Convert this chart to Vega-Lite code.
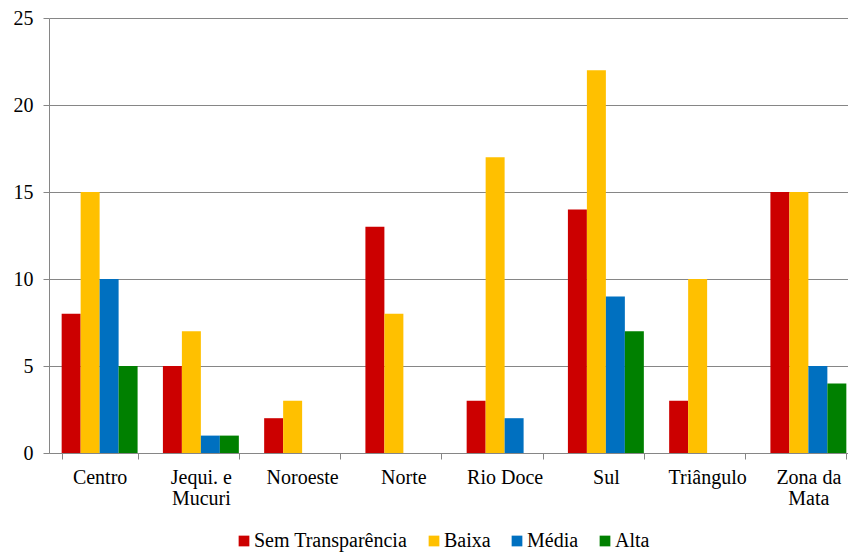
{
  "$schema": "https://vega.github.io/schema/vega-lite/v6.json",
  "autosize": {"type": "none"},
  "width": 810,
  "height": 435,
  "padding": {"left": 49, "top": 18, "right": 0, "bottom": 100},
  "background": "white",
  "config": {
    "font": "Liberation Serif",
    "view": {"stroke": null},
    "legend": {"labelFont": "Liberation Serif", "labelFontSize": 20, "labelColor": "black"}
  },
  "data": {
    "values": [
      {"regiao": "Centro", "nivel": "Sem Transparência", "valor": 8},
      {"regiao": "Centro", "nivel": "Baixa", "valor": 15},
      {"regiao": "Centro", "nivel": "Média", "valor": 10},
      {"regiao": "Centro", "nivel": "Alta", "valor": 5},
      {"regiao": "Jequi. e Mucuri", "nivel": "Sem Transparência", "valor": 5},
      {"regiao": "Jequi. e Mucuri", "nivel": "Baixa", "valor": 7},
      {"regiao": "Jequi. e Mucuri", "nivel": "Média", "valor": 1},
      {"regiao": "Jequi. e Mucuri", "nivel": "Alta", "valor": 1},
      {"regiao": "Noroeste", "nivel": "Sem Transparência", "valor": 2},
      {"regiao": "Noroeste", "nivel": "Baixa", "valor": 3},
      {"regiao": "Noroeste", "nivel": "Média", "valor": 0},
      {"regiao": "Noroeste", "nivel": "Alta", "valor": 0},
      {"regiao": "Norte", "nivel": "Sem Transparência", "valor": 13},
      {"regiao": "Norte", "nivel": "Baixa", "valor": 8},
      {"regiao": "Norte", "nivel": "Média", "valor": 0},
      {"regiao": "Norte", "nivel": "Alta", "valor": 0},
      {"regiao": "Rio Doce", "nivel": "Sem Transparência", "valor": 3},
      {"regiao": "Rio Doce", "nivel": "Baixa", "valor": 17},
      {"regiao": "Rio Doce", "nivel": "Média", "valor": 2},
      {"regiao": "Rio Doce", "nivel": "Alta", "valor": 0},
      {"regiao": "Sul", "nivel": "Sem Transparência", "valor": 14},
      {"regiao": "Sul", "nivel": "Baixa", "valor": 22},
      {"regiao": "Sul", "nivel": "Média", "valor": 9},
      {"regiao": "Sul", "nivel": "Alta", "valor": 7},
      {"regiao": "Triângulo", "nivel": "Sem Transparência", "valor": 3},
      {"regiao": "Triângulo", "nivel": "Baixa", "valor": 10},
      {"regiao": "Triângulo", "nivel": "Média", "valor": 0},
      {"regiao": "Triângulo", "nivel": "Alta", "valor": 0},
      {"regiao": "Zona da Mata", "nivel": "Sem Transparência", "valor": 15},
      {"regiao": "Zona da Mata", "nivel": "Baixa", "valor": 15},
      {"regiao": "Zona da Mata", "nivel": "Média", "valor": 5},
      {"regiao": "Zona da Mata", "nivel": "Alta", "valor": 4}
    ]
  },
  "mark": {"type": "bar"},
  "encoding": {
    "x": {
      "field": "regiao",
      "type": "nominal",
      "sort": null,
      "scale": {"paddingInner": 0.25, "paddingOuter": 0.125},
      "axis": {
        "title": null,
        "labelAngle": 0,
        "labelFont": "Liberation Serif",
        "labelFontSize": 20,
        "labelColor": "black",
        "labelPadding": 8,
        "labelLineHeight": 21,
        "labelExpr": "datum.label == 'Jequi. e Mucuri' ? ['Jequi. e', 'Mucuri'] : datum.label == 'Zona da Mata' ? ['Zona da', 'Mata'] : datum.label",
        "tickBand": "extent",
        "tickSize": 6,
        "tickColor": "#868686",
        "domainColor": "#868686",
        "grid": false
      }
    },
    "xOffset": {
      "field": "nivel",
      "type": "nominal",
      "sort": ["Sem Transparência", "Baixa", "Média", "Alta"],
      "scale": {"paddingInner": 0, "paddingOuter": 0}
    },
    "y": {
      "field": "valor",
      "type": "quantitative",
      "scale": {"domain": [0, 25], "nice": false},
      "axis": {
        "title": null,
        "values": [0, 5, 10, 15, 20, 25],
        "labelFont": "Liberation Serif",
        "labelFontSize": 20,
        "labelColor": "black",
        "labelPadding": 10,
        "tickSize": 6,
        "tickColor": "#868686",
        "domainColor": "#868686",
        "gridColor": "#868686",
        "gridOpacity": 1
      }
    },
    "color": {
      "field": "nivel",
      "type": "nominal",
      "sort": ["Sem Transparência", "Baixa", "Média", "Alta"],
      "scale": {
        "domain": ["Sem Transparência", "Baixa", "Média", "Alta"],
        "range": ["#CC0000", "#FFC000", "#0070C0", "#008000"]
      },
      "legend": {
        "title": null,
        "orient": "none",
        "direction": "horizontal",
        "legendX": 185,
        "legendY": 513,
        "symbolType": "square",
        "symbolSize": 115,
        "symbolStrokeWidth": 0,
        "symbolOpacity": 1,
        "labelFont": "Liberation Serif",
        "labelFontSize": 20,
        "labelColor": "black",
        "labelOffset": 0,
        "columnPadding": 16,
        "labelLimit": 300
      }
    }
  }
}
